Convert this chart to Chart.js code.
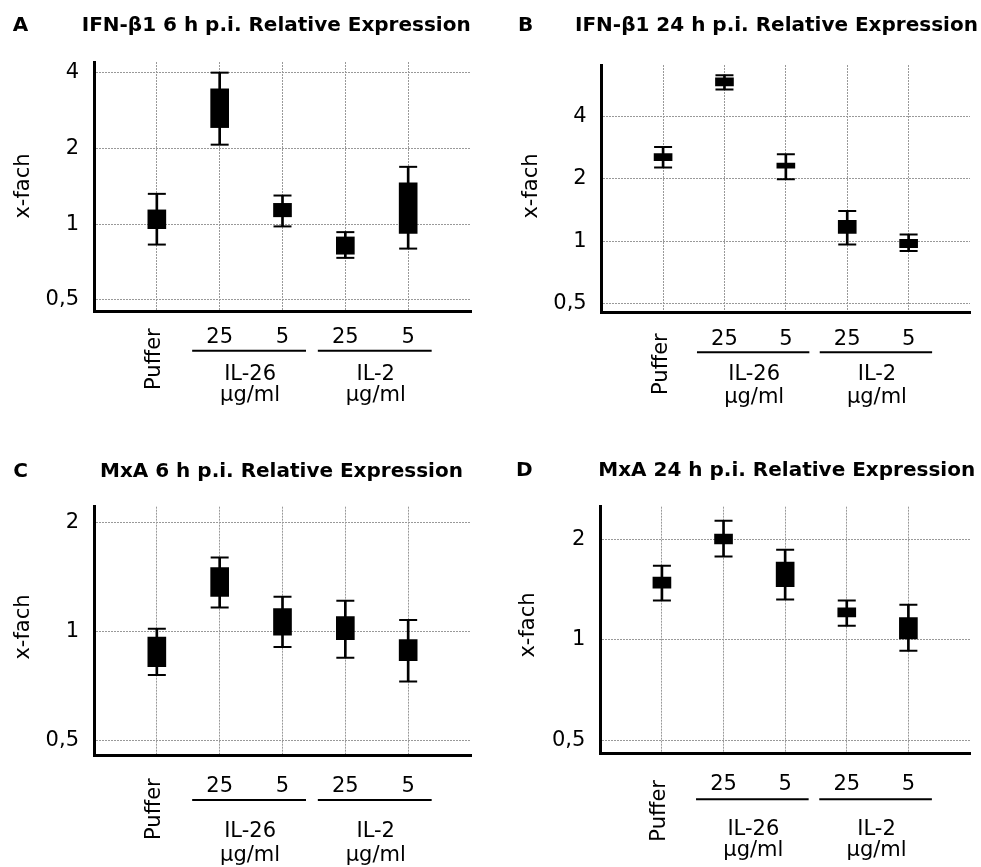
<!DOCTYPE html>
<html>
<head>
<meta charset="utf-8">
<title>Relative Expression</title>
<script src="https://cdn.jsdelivr.net/npm/chart.js@4.4.1/dist/chart.umd.min.js"></script>
<style>
  body { margin: 0; background: #fff; }
  #wrap { position: relative; width: 981px; height: 867px; overflow: hidden; background: #fff; }
  canvas { position: absolute; }
</style>
</head>
<body>
<div id="wrap">
  <canvas id="chart-a" width="490" height="440" style="left:0px;top:0px"></canvas>
  <canvas id="chart-b" width="491" height="440" style="left:490px;top:0px"></canvas>
  <canvas id="chart-c" width="490" height="427" style="left:0px;top:440px"></canvas>
  <canvas id="chart-d" width="491" height="427" style="left:490px;top:440px"></canvas>
</div>
<script>
'use strict';

// Data ********** //
let categories = ['', 'Puffer', '25', '5', '25', '5', ''];
let groupNames = ['IL-26', 'IL-2'];
let unitLabel = 'µg/ml';
let yAxisTitle = 'x-fach';

let ticksAB = [0.5, 1, 2, 4];
let ticksCD = [0.5, 1, 2];
let tickLabels = { 0.5: '0,5', 1: '1', 2: '2', 4: '4' };

// A: IFN-b1 6 h
let aBoxLow = [0.96, 2.42, 1.07, 0.76, 0.92];
let aBoxHigh = [1.14, 3.45, 1.21, 0.89, 1.46];
let aWhiskerLow = [0.83, 2.07, 0.98, 0.735, 0.80];
let aWhiskerHigh = [1.32, 4.0, 1.30, 0.93, 1.69];

// B: IFN-b1 24 h
let bBoxLow = [2.45, 5.63, 2.25, 1.09, 0.93];
let bBoxHigh = [2.65, 6.15, 2.385, 1.26, 1.02];
let bWhiskerLow = [2.27, 5.40, 1.99, 0.964, 0.895];
let bWhiskerHigh = [2.85, 6.34, 2.63, 1.40, 1.078];

// C: MxA 6 h
let cBoxLow = [0.80, 1.25, 0.977, 0.949, 0.83];
let cBoxHigh = [0.965, 1.50, 1.157, 1.10, 0.95];
let cWhiskerLow = [0.758, 1.165, 0.906, 0.846, 0.728];
let cWhiskerHigh = [1.017, 1.60, 1.246, 1.215, 1.075];

// D: MxA 24 h
let dBoxLow = [1.427, 1.936, 1.443, 1.171, 1.007];
let dBoxHigh = [1.54, 2.07, 1.707, 1.246, 1.166];
let dWhiskerLow = [1.31, 1.774, 1.32, 1.101, 0.927];
let dWhiskerHigh = [1.664, 2.27, 1.858, 1.31, 1.273];

Chart.defaults.font.family = '"DejaVu Sans", sans-serif';
Chart.defaults.color = '#000';

// Helpers ********** //
// pad the 5 values with empty slots at both ends of the axis
function padded(values) {
  return [null].concat(values, [null]);
}

function ranges(low, high) {
  return padded(low.map((v, i) => [v, high[i]]));
}

// draws panel letter, title, y title and the grouped category labels
let panelLabels = {
  id: 'panelLabels',
  afterDraw(chart, args, opts) {
    let ctx = chart.ctx;
    let area = chart.chartArea;
    let xScale = chart.scales.x;
    let base = area.bottom;
    ctx.save();
    ctx.fillStyle = '#000';
    ctx.strokeStyle = '#000';

    ctx.font = 'bold 20px "DejaVu Sans"';
    ctx.textAlign = 'left';
    ctx.textBaseline = 'alphabetic';
    ctx.fillText(opts.letter, opts.letterX, opts.titleY);
    ctx.fillText(opts.title, opts.titleX, opts.titleY);

    ctx.font = '21px "DejaVu Sans"';
    // y axis title
    ctx.save();
    ctx.translate(area.left - opts.yTitleGap, opts.yTitleY);
    ctx.rotate(-Math.PI / 2);
    ctx.textAlign = 'center';
    ctx.textBaseline = 'middle';
    ctx.fillText(yAxisTitle, 0, 0);
    ctx.restore();

    // Puffer, rotated
    ctx.save();
    ctx.translate(xScale.getPixelForValue(1) + 3.5, base + opts.pufferEnd);
    ctx.rotate(-Math.PI / 2);
    ctx.textAlign = 'right';
    ctx.textBaseline = 'alphabetic';
    ctx.fillText(categories[1], 0, 0);
    ctx.restore();

    // doses
    ctx.textAlign = 'center';
    for (let i = 2; i <= 5; i++) {
      ctx.fillText(categories[i], xScale.getPixelForValue(i), base + opts.numBase);
    }

    // group lines and names
    ctx.lineWidth = 2;
    for (let g = 0; g < groupNames.length; g++) {
      let left = xScale.getPixelForValue(2 + g * 2);
      let right = xScale.getPixelForValue(3 + g * 2);
      let mid = (left + right) / 2;
      ctx.beginPath();
      ctx.moveTo(left - 27.5, base + opts.lineY);
      ctx.lineTo(right + 23.5, base + opts.lineY);
      ctx.stroke();
      ctx.fillText(groupNames[g], mid - 1, base + opts.groupBase);
      ctx.fillText(unitLabel, mid - 1, base + opts.unitBase);
    }
    ctx.restore();
  }
};

function makeChart(canvasId, panel) {
  let canvas = document.getElementById(canvasId);
  let w = canvas.width;
  let h = canvas.height;
  let plot = panel.plot;

  let chartObj = {
    type: 'bar',
    data: {
      labels: categories,
      datasets: [
        {
          label: 'whisker',
          data: ranges(panel.whiskerLow, panel.whiskerHigh),
          backgroundColor: '#000',
          barThickness: 2,
          grouped: false,
          order: 3
        },
        {
          label: 'box',
          data: ranges(panel.boxLow, panel.boxHigh),
          backgroundColor: '#000',
          barThickness: 18,
          grouped: false,
          order: 2
        },
        {
          type: 'line',
          label: 'cap high',
          data: padded(panel.whiskerHigh),
          showLine: false,
          pointStyle: 'line',
          pointRadius: 9,
          pointBorderWidth: 2,
          pointBorderColor: '#000',
          order: 1
        },
        {
          type: 'line',
          label: 'cap low',
          data: padded(panel.whiskerLow),
          showLine: false,
          pointStyle: 'line',
          pointRadius: 9,
          pointBorderWidth: 2,
          pointBorderColor: '#000',
          order: 1
        }
      ]
    },
    options: {
      responsive: false,
      animation: false,
      events: [],
      layout: {
        padding: { top: plot.top, right: w - plot.right, left: 0, bottom: 0 }
      },
      plugins: {
        legend: { display: false },
        tooltip: { enabled: false },
        panelLabels: panel.labels
      },
      scales: {
        x: {
          type: 'category',
          offset: false,
          grid: {
            offset: false,
            drawTicks: false,
            lineWidth: 1,
            color: (c) => (c.index === 0 || c.index === categories.length - 1) ? 'rgba(0,0,0,0)' : '#999'
          },
          border: { display: true, color: '#000', width: 3, dash: [2, 1] },
          ticks: { display: false },
          afterFit(scale) { scale.height = h - plot.bottom; }
        },
        y: {
          type: 'logarithmic',
          min: panel.yMin,
          max: panel.yMax,
          grid: { drawTicks: false, lineWidth: 1, color: '#999' },
          border: { display: true, color: '#000', width: 3, dash: [2, 1] },
          ticks: {
            padding: 15,
            font: { size: 21 },
            callback: (value) => tickLabels[value]
          },
          afterBuildTicks(scale) {
            scale.ticks = panel.ticks.map((v) => ({ value: v }));
          },
          afterFit(scale) { scale.width = plot.left; }
        }
      }
    },
    plugins: [panelLabels]
  };

  return new Chart(canvas, chartObj);
}

// Executable Code ********** //
makeChart('chart-a', {
  boxLow: aBoxLow, boxHigh: aBoxHigh, whiskerLow: aWhiskerLow, whiskerHigh: aWhiskerHigh,
  yMin: 0.452, yMax: 4.41, ticks: ticksAB,
  plot: { left: 94, top: 62, right: 471, bottom: 311 },
  labels: {
    letter: 'A', letterX: 12.7, title: 'IFN-β1 6 h p.i. Relative Expression', titleX: 81.7, titleY: 30.7,
    yTitleGap: 70, yTitleY: 186, pufferEnd: 17.3, numBase: 32.3, lineY: 39.7, groupBase: 69, unitBase: 90
  }
});

makeChart('chart-b', {
  boxLow: bBoxLow, boxHigh: bBoxHigh, whiskerLow: bWhiskerLow, whiskerHigh: bWhiskerHigh,
  yMin: 0.453, yMax: 7.1, ticks: ticksAB,
  plot: { left: 111.7, top: 65, right: 488, bottom: 312.3 },
  labels: {
    letter: 'B', letterX: 28, title: 'IFN-β1 24 h p.i. Relative Expression', titleX: 85, titleY: 31,
    yTitleGap: 70, yTitleY: 186, pufferEnd: 21, numBase: 32.7, lineY: 40, groupBase: 67.7, unitBase: 91
  }
});

makeChart('chart-c', {
  boxLow: cBoxLow, boxHigh: cBoxHigh, whiskerLow: cWhiskerLow, whiskerHigh: cWhiskerHigh,
  yMin: 0.456, yMax: 2.21, ticks: ticksCD,
  plot: { left: 94, top: 66.7, right: 471, bottom: 315 },
  labels: {
    letter: 'C', letterX: 13.3, title: 'MxA 6 h p.i. Relative Expression', titleX: 100, titleY: 36.7,
    yTitleGap: 70, yTitleY: 187, pufferEnd: 23.3, numBase: 36.7, lineY: 45, groupBase: 81.7, unitBase: 106
  }
});

makeChart('chart-d', {
  boxLow: dBoxLow, boxHigh: dBoxHigh, whiskerLow: dWhiskerLow, whiskerHigh: dWhiskerHigh,
  yMin: 0.458, yMax: 2.50, ticks: ticksCD,
  plot: { left: 110.3, top: 66.7, right: 488, bottom: 313.3 },
  labels: {
    letter: 'D', letterX: 26, title: 'MxA 24 h p.i. Relative Expression', titleX: 108.3, titleY: 36,
    yTitleGap: 72, yTitleY: 185, pufferEnd: 26.7, numBase: 36.7, lineY: 46, groupBase: 81.7, unitBase: 103
  }
});
</script>
</body>
</html>
